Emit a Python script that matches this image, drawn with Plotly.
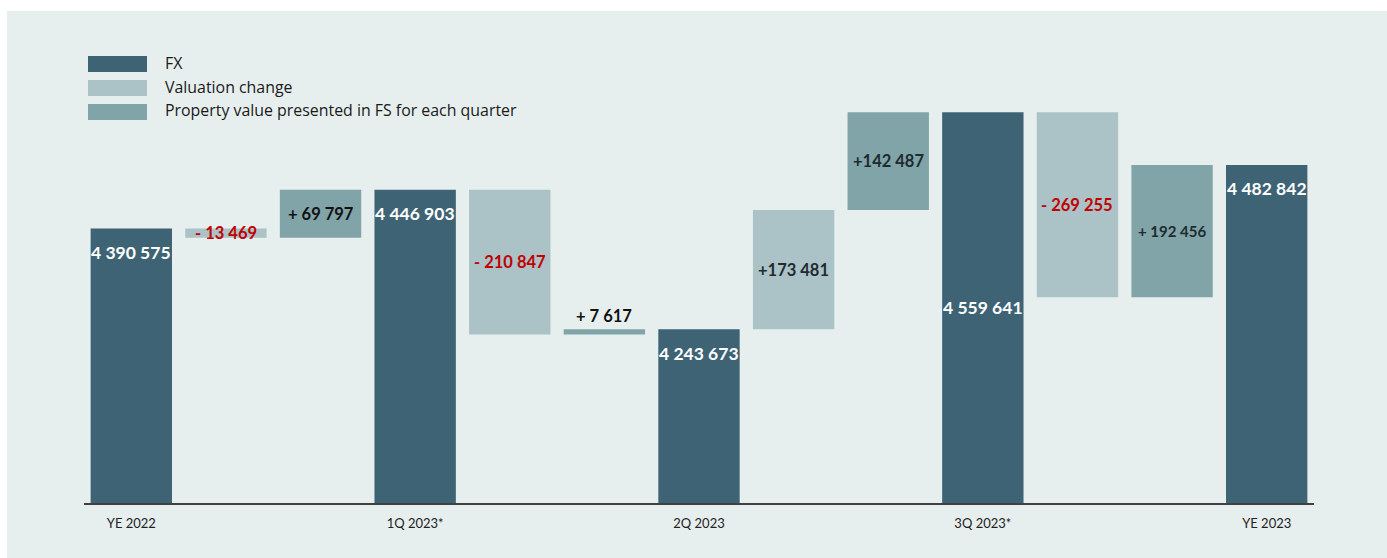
import plotly.graph_objects as go

# Reported property values per period
period_labels = ["YE 2022", "1Q 2023*", "2Q 2023", "3Q 2023*", "YE 2023"]
period_values = [4390575, 4446903, 4243673, 4559641, 4482842]

# Movements between consecutive periods
valuation_change = [-13469, -210847, 173481, -269255]
fs_adjustment = [69797, 7617, 142487, 192456]

legend_names = ["FX", "Valuation change", "Property value presented in FS for each quarter"]

DARK = "#3e6374"
LIGHT = "#abc2c6"
MID = "#80a4a7"
PANEL = "#e7efee"
RED = "#c00000"
FONT = "Lato, 'Open Sans', sans-serif"
LEGEND_FONT = "'Open Sans', Lato, sans-serif"

Y_MIN = 3991000
Y_MAX = 4635565

W, H = 1387, 558
M_L, M_R, M_T, M_B = 84, 73, 60, 55
PW = W - M_L - M_R
PH = H - M_T - M_B


def px_x(x):
    return (x - M_L) / PW


def px_y(y):
    return (H - M_B - y) / PH


def fmt(v):
    return f"{abs(v):,}".replace(",", " ")


def fmt_delta(v, gap=True):
    sign = "+" if v >= 0 else "-"
    return sign + (" " if gap else "") + fmt(v)


n = len(period_values)
x_period = [3 * i for i in range(n)]
x_val = [3 * i + 1 for i in range(n - 1)]
x_adj = [3 * i + 2 for i in range(n - 1)]

val_base = period_values[:-1]
adj_base = [p + v for p, v in zip(period_values[:-1], valuation_change)]

fig = go.Figure()
bar_width = 0.86
fig.add_trace(go.Bar(x=x_period, y=period_values, marker=dict(color=DARK, line_width=0),
                     width=bar_width, name=legend_names[0], showlegend=False))
fig.add_trace(go.Bar(x=x_val, y=valuation_change, base=val_base,
                     marker=dict(color=LIGHT, line_width=0),
                     width=bar_width, name=legend_names[1], showlegend=False))
fig.add_trace(go.Bar(x=x_adj, y=fs_adjustment, base=adj_base,
                     marker=dict(color=MID, line_width=0),
                     width=bar_width, name=legend_names[2], showlegend=False))

annotations = []

# Period totals: white labels near the top of each column (3Q centred)
for i, (x, v) in enumerate(zip(x_period, period_values)):
    if i == 3:
        annotations.append(dict(x=x, y=(Y_MIN + v) / 2, text=f"<b>{fmt(v)}</b>",
                                showarrow=False, yanchor="middle",
                                font=dict(family=FONT, size=17.5, color="white")))
    else:
        annotations.append(dict(x=x, y=v, yshift=-24, text=f"<b>{fmt(v)}</b>",
                                showarrow=False, yanchor="middle",
                                font=dict(family=FONT, size=17.5, color="white")))

# Movement labels
tight = {(2, 0), (2, 1)}
for i in range(n - 1):
    for k, (x, base, d) in enumerate([(x_val[i], val_base[i], valuation_change[i]),
                                      (x_adj[i], adj_base[i], fs_adjustment[i])]):
        color = RED if d < 0 else ("#111111" if i < 2 else "#1e2b31")
        size = 15 if (i == 3 and k == 1) else 16.5
        text = f"<b>{fmt_delta(d, (i, k) not in tight)}</b>"
        if i == 1 and k == 1:
            annotations.append(dict(x=x, y=base + d, yshift=1, yanchor="bottom", text=text,
                                    showarrow=False, font=dict(family=FONT, size=size, color=color)))
        else:
            annotations.append(dict(x=x, y=base + d / 2, yanchor="middle", text=text,
                                    showarrow=False, font=dict(family=FONT, size=size, color=color)))

# Legend drawn as wide swatches with labels
shapes = []
swatch_rows = [(56, 72, 63), (80, 96, 87), (104, 120, 110)]
for (y0, y1, yc), col, name in zip(swatch_rows, [DARK, LIGHT, MID], legend_names):
    shapes.append(dict(type="rect", xref="paper", yref="paper",
                       x0=px_x(88), x1=px_x(147), y0=px_y(y1), y1=px_y(y0),
                       fillcolor=col, line_width=0))
    annotations.append(dict(xref="paper", yref="paper", x=px_x(163), y=px_y(yc),
                            xanchor="left", yanchor="middle", showarrow=False, text=name,
                            font=dict(family=LEGEND_FONT, size=15.9, color="#1a1a1a")))

# White border strip around the panel
shapes.append(dict(type="rect", xref="paper", yref="paper", layer="above",
                   x0=px_x(-5), x1=px_x(W + 5), y0=px_y(11), y1=px_y(-5),
                   fillcolor="white", line_width=0))
shapes.append(dict(type="rect", xref="paper", yref="paper", layer="above",
                   x0=px_x(-5), x1=px_x(7), y0=px_y(H + 5), y1=px_y(-5),
                   fillcolor="white", line_width=0))

fig.update_layout(
    width=W, height=H,
    margin=dict(l=M_L, r=M_R, t=M_T, b=M_B),
    paper_bgcolor=PANEL, plot_bgcolor=PANEL,
    barmode="overlay",
    shapes=shapes,
    annotations=annotations,
    xaxis=dict(range=[-0.5, 3 * (n - 1) + 0.5], tickmode="array", tickvals=x_period,
               ticktext=period_labels, showgrid=False, zeroline=False,
               showline=True, linecolor="#404040", linewidth=1.5, ticks="",
               ticklabelstandoff=8,
               tickfont=dict(family=FONT, size=13, color="#222222")),
    yaxis=dict(range=[Y_MIN, Y_MAX], visible=False, showgrid=False, zeroline=False),
    font=dict(family=FONT),
)

fig.write_html("out.html")
